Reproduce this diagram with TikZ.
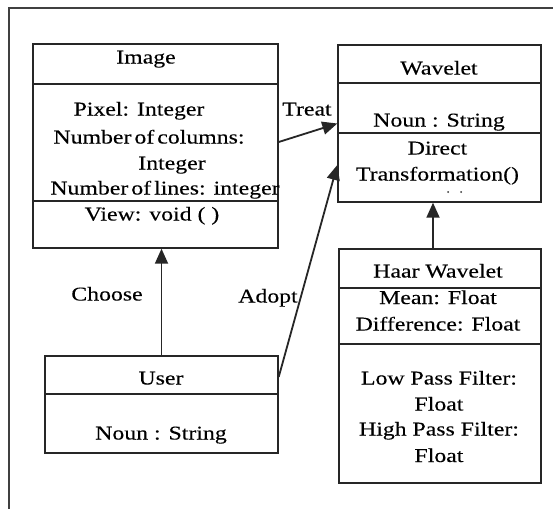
\documentclass[tikz,border=0pt]{standalone}
\usepackage{fontspec}
\setmainfont[FakeStretch=1.22,FakeBold=0.2]{Liberation Serif}
\usetikzlibrary{arrows.meta}
\newcommand\ts{\hspace{3pt}}
\begin{document}
\begin{tikzpicture}[x=1pt,y=-1pt,
  cls/.style={draw=black!85,line width=1.4pt,inner sep=0pt,fill=none},
  txt/.style={anchor=base,inner sep=0pt,font=\fontsize{19.5}{24}\selectfont},
  conn/.style={draw=black!85,line width=1.8pt},
  arr/.style={conn,-{Triangle[length=15pt,width=13pt]}}]
\useasboundingbox (0,0) rectangle (553,509);
\fill[white] (0,0) rectangle (553,509);
% frame
\coordinate (fa) at (553,8);
\coordinate (fb) at (9,8);
\coordinate (fc) at (9,509);
\draw[black!75,line width=1.6pt] (fa) -- (fb) -- (fc);
% boxes
\node[cls,minimum width=245pt,minimum height=204pt] (img) at (155.5,146) {};
\node[cls,minimum width=203pt,minimum height=157pt] (wav) at (439.5,123.5) {};
\node[cls,minimum width=202pt,minimum height=234pt] (haar) at (440,366) {};
\node[cls,minimum width=233pt,minimum height=97pt] (usr) at (161.5,404.5) {};
% dividers
\draw[cls] (img.west |- 0,84) -- (img.east |- 0,84);
\draw[cls] (img.west |- 0,201) -- (img.east |- 0,201);
\draw[cls] (wav.west |- 0,83) -- (wav.east |- 0,83);
\draw[cls] (wav.west |- 0,133) -- (wav.east |- 0,133);
\draw[cls] (haar.west |- 0,288) -- (haar.east |- 0,288);
\draw[cls] (haar.west |- 0,344) -- (haar.east |- 0,344);
\draw[cls] (usr.west |- 0,394) -- (usr.east |- 0,394);
% texts Image
\node[txt] (t1) at (146,63.5) {Image};
\node[txt] (t2) at (139,115.5) {Pixel: Integer};
\node[txt] (t3) at (149,143.5) {Number\ts{}of\ts{}columns:};
\node[txt] (t4) at (172,169.5) {Integer};
\node[txt] (t5) at (165,194.5) {Number\ts{}of\ts{}lines: integer};
\node[txt] (t6) at (152,220.5) {View: void ( )};
% Wavelet
\node[txt] (w1) at (439,74.5) {Wavelet};
\node[txt] (w2) at (439,126.5) {Noun : String};
\node[txt] (w3) at (437.5,154.5) {Direct};
\node[txt] (w4) at (437.5,180.5) {Transformation()};
\fill[black!80] (448,192) circle (1);
\fill[black!80] (461,192) circle (1);
% Haar
\node[txt] (h1) at (438,277.5) {Haar Wavelet};
\node[txt] (h2) at (438,304) {Mean: Float};
\node[txt] (h3) at (438,330.5) {Difference: Float};
\node[txt] (h4) at (439,384.5) {Low Pass Filter:};
\node[txt] (h5) at (439,410.5) {Float};
\node[txt] (h6) at (439,435.5) {High Pass Filter:};
\node[txt] (h7) at (439,462) {Float};
% User
\node[txt] (u1) at (161,384.5) {User};
\node[txt] (u2) at (161,439.5) {Noun : String};
% labels
\node[txt] (lc) at (107,300.5) {Choose};
\node[txt] (la) at (268,302.5) {Adopt};
\node[txt] (lt) at (307,115.5) {Treat};
% connectors
\coordinate (hw) at ([xshift=-7pt]haar.north);
\draw[arr] (hw) -- (hw |- wav.south);
\draw[arr] (usr.north) -- (usr.north |- img.south);
\coordinate (ts) at ([yshift=4pt]img.east);
\draw[arr] (ts) -- (wav.west);
\coordinate (as) at ([yshift=27.5pt]usr.east);
\coordinate (ae) at ([yshift=-41.5pt]wav.west);
\draw[arr] (as) -- (ae);
\end{tikzpicture}
\end{document}
